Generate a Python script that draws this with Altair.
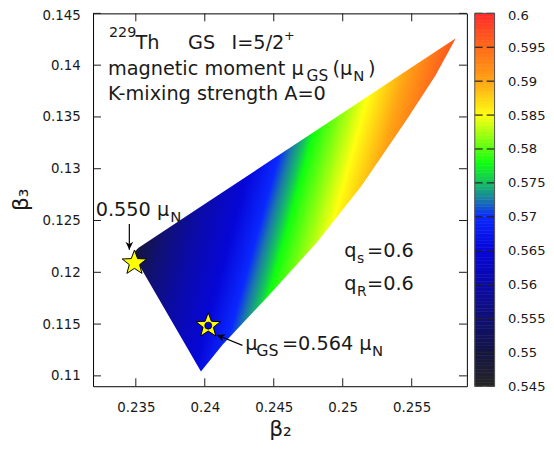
import math
import altair as alt
import numpy as np
import pandas as pd

# ---------------- axes ----------------
X_DOMAIN = [0.2319, 0.259]
Y_DOMAIN = [0.109, 0.145]
X_TICKS = [0.235, 0.24, 0.245, 0.25, 0.255]
Y_TICKS = [0.11, 0.115, 0.12, 0.125, 0.13, 0.135, 0.14, 0.145]
CB_DOMAIN = [0.545, 0.6]
CB_TICKS = [0.545, 0.55, 0.555, 0.56, 0.565, 0.57, 0.575, 0.58, 0.585, 0.59, 0.595, 0.6]

# ---------------- palette (mu_GS -> colour) ----------------
PAL_V = [0.545, 0.550, 0.555, 0.560, 0.565, 0.570, 0.5725, 0.575, 0.578, 0.585, 0.590, 0.595, 0.600]
PAL_C = ["#262626", "#141444", "#101074", "#0b0ba8", "#0606d8", "#0a28ff", "#1a7aa8",
         "#14c060", "#10ff10", "#ffff10", "#ffa414", "#ff6a18", "#ff2a2a"]

# ---------------- allowed region in (beta2, beta3) ----------------
UPPER_B2 = [0.23477, 0.2352, 0.2582]
UPPER_B3 = [0.1218, 0.12237, 0.14261]
LOWER_B2 = [0.23477, 0.23972, 0.24129, 0.24452, 0.24810, 0.25133, 0.25456, 0.25671, 0.2582]
LOWER_B3 = [0.1218, 0.11043, 0.11301, 0.11759, 0.12285, 0.12829, 0.13459, 0.13898, 0.14261]

# colour profile across the region: fraction from left corner towards the tip, mu_GS
PROFILE_F = [0.0, 0.02, 0.10, 0.22, 0.36, 0.46, 0.50, 0.54, 0.57, 0.74, 0.86, 1.0]
PROFILE_MU = [0.549, 0.550, 0.555, 0.560, 0.565, 0.570, 0.5725, 0.575, 0.578, 0.585, 0.590, 0.596]
GRAD_DIR = (0.96, 0.28)

# ---------------- markers / annotations ----------------
STAR_B2 = [0.2349, 0.24025]
STAR_B3 = [0.1209, 0.11485]
STAR_MU = [0.550, 0.564]

ARROW_TAIL_B2 = [0.23453, 0.24273]
ARROW_TAIL_B3 = [0.12466, 0.11294]
ARROW_TIP_B2 = [0.23453, 0.24088]
ARROW_TIP_B3 = [0.12218, 0.11394]

TXT = ["229", "Th", "GS", "I=5/2", "+",
       "magnetic moment μ", "GS", "(μ", "N", ")",
       "K-mixing strength A=0",
       "0.550 μ", "N",
       "μ", "GS", "=0.564 μ", "N",
       "q", "s", "=0.6", "q", "R", "=0.6"]
TXT_B2 = [0.23305, 0.23498, 0.23878, 0.24194, 0.24574,
          0.23298, 0.24738, 0.24925, 0.25076, 0.25183,
          0.23298,
          0.23209, 0.23749,
          0.24294, 0.24373, 0.24559, 0.25212,
          0.25011, 0.25104, 0.25176, 0.25011, 0.25104, 0.25176]
TXT_B3 = [0.14271, 0.14159, 0.14159, 0.14159, 0.14247,
          0.13903, 0.13850, 0.13903, 0.13850, 0.13903,
          0.13660,
          0.12542, 0.12485,
          0.11253, 0.11191, 0.11253, 0.11191,
          0.12151, 0.12094, 0.12151, 0.11826, 0.11769, 0.11826]
TXT_FS = [14.5, 19.5, 19.5, 19.5, 13,
          19.5, 15.5, 19.5, 15, 19.5,
          19.5,
          19.5, 15,
          19.5, 16, 19.5, 15,
          19.5, 14, 19.5, 19.5, 14, 19.5]

FONT = "DejaVu Sans"
INK = "#1a1a1a"
W, H = 378, 377
CB_X0, CB_X1 = W + 8, W + 28

# ---------------- helpers ----------------
sx = W / (X_DOMAIN[1] - X_DOMAIN[0])
sy = H / (Y_DOMAIN[1] - Y_DOMAIN[0])


def to_px(b2, b3):
    return ((b2 - X_DOMAIN[0]) * sx, (Y_DOMAIN[1] - b3) * sy)


def hex2rgb(h):
    h = h.lstrip("#")
    return [int(h[i:i + 2], 16) for i in (0, 2, 4)]


PAL_RGB = np.array([hex2rgb(c) for c in PAL_C], dtype=float)


def mu_color(v):
    rgb = [int(round(float(np.interp(v, PAL_V, PAL_RGB[:, k])))) for k in range(3)]
    return "#%02x%02x%02x" % tuple(rgb)


# five-pointed star symbol (unit radius)
_sp = []
for k in range(10):
    r = 1.0 if k % 2 == 0 else 0.42
    a = math.radians(-90 + 36 * k)
    _sp.append("%.3f,%.3f" % (r * math.cos(a), r * math.sin(a)))
STAR_PATH = "M" + "L".join(_sp) + "Z"
ARROW_PATH = "M0,0L-1,-2.1L0,-1.4L1,-2.1Z"

# gradient geometry (normalised to the area's bounding box)
pts = [to_px(a, b) for a, b in zip(UPPER_B2 + LOWER_B2, UPPER_B3 + LOWER_B3)]
bx0 = min(p[0] for p in pts); bx1 = max(p[0] for p in pts)
by0 = min(p[1] for p in pts); by1 = max(p[1] for p in pts)
bw, bh = bx1 - bx0, by1 - by0
dn = math.hypot(*GRAD_DIR)
d = (GRAD_DIR[0] / dn, GRAD_DIR[1] / dn)
p1 = to_px(UPPER_B2[0], UPPER_B3[0])
tip = to_px(UPPER_B2[-1], UPPER_B3[-1])
L = (tip[0] - p1[0]) * d[0] + (tip[1] - p1[1]) * d[1]
p2 = (p1[0] + L * d[0], p1[1] + L * d[1])
grad = {
    "gradient": "linear",
    "x1": (p1[0] - bx0) / bw, "y1": (p1[1] - by0) / bh,
    "x2": (p2[0] - bx0) / bw, "y2": (p2[1] - by0) / bh,
    "stops": [{"offset": float(f), "color": mu_color(m)} for f, m in zip(PROFILE_F, PROFILE_MU)],
}

xs = sorted(set(UPPER_B2) | set(LOWER_B2))
area_df = pd.DataFrame({
    "b2": xs,
    "up": np.interp(xs, UPPER_B2, UPPER_B3),
    "lo": np.interp(xs, LOWER_B2, LOWER_B3),
})

xscale = alt.Scale(domain=X_DOMAIN, nice=False, zero=False)
yscale = alt.Scale(domain=Y_DOMAIN, nice=False, zero=False)
xaxis = alt.Axis(values=X_TICKS, format=".3~f", ticks=False, domain=False, grid=False,
                 labelFont=FONT, labelFontSize=13.5, labelColor=INK, labelPadding=15,
                 title="β₂", titleFont=FONT, titleFontSize=22, titleFontWeight="normal",
                 titleColor=INK, titleX=189, titleY=50, titleBaseline="alphabetic",
                 titleAlign="center")
yaxis = alt.Axis(values=Y_TICKS, format=".3~f", ticks=False, domain=False, grid=False,
                 labelFont=FONT, labelFontSize=13.5, labelColor=INK, labelPadding=13,
                 labelOffset={"condition": {"test": "datum.value >= 0.1449", "value": 2.5},
                              "value": 0},
                 title="β₃", titleFont=FONT, titleFontSize=22, titleFontWeight="normal",
                 titleColor=INK, titleX=-66, titleY=188, titleAngle=270,
                 titleBaseline="alphabetic", titleAlign="center")


def X(f):
    return alt.X(f, type="quantitative", scale=xscale, axis=xaxis)


def Y(f):
    return alt.Y(f, type="quantitative", scale=yscale, axis=yaxis)


area = alt.Chart(area_df).mark_area(color=grad, strokeWidth=0).encode(
    x=X("b2"), y=Y("lo"), y2="up")

# inward ticks on all four sides
xt = pd.DataFrame({"b2": X_TICKS})
yt = pd.DataFrame({"b3": Y_TICKS})
tick_b = alt.Chart(xt).mark_rule(color=INK, strokeWidth=1).encode(
    x=X("b2"), y=alt.value(H), y2=alt.value(H - 8))
tick_t = alt.Chart(xt).mark_rule(color=INK, strokeWidth=1).encode(
    x=X("b2"), y=alt.value(0), y2=alt.value(8))
tick_l = alt.Chart(yt).mark_rule(color=INK, strokeWidth=1).encode(
    y=Y("b3"), x=alt.value(0), x2=alt.value(8))
tick_r = alt.Chart(yt).mark_rule(color=INK, strokeWidth=1).encode(
    y=Y("b3"), x=alt.value(W), x2=alt.value(W - 8))

star_df = pd.DataFrame({"b2": STAR_B2, "b3": STAR_B3, "mu": STAR_MU})
stars = alt.Chart(star_df).mark_point(shape=STAR_PATH, filled=True, fill="#ffff00",
                                      stroke="black", strokeWidth=1, size=676,
                                      opacity=1).encode(x=X("b2"), y=Y("b3"))
hole_df = star_df.iloc[1:].reset_index(drop=True)
hole = alt.Chart(hole_df).mark_point(shape="circle", filled=True, fill=mu_color(STAR_MU[1]),
                                     stroke="black", strokeWidth=0.8, size=50,
                                     opacity=1).encode(x=X("b2"), y=Y("b3"))

# arrows
angles = []
for tb2, tb3, hb2, hb3 in zip(ARROW_TAIL_B2, ARROW_TAIL_B3, ARROW_TIP_B2, ARROW_TIP_B3):
    ax, ay = to_px(tb2, tb3)
    hx, hy = to_px(hb2, hb3)
    ux, uy = hx - ax, hy - ay
    angles.append(round(math.degrees(math.atan2(-ux, uy)) % 360, 2) + 0.0)
arrow_df = pd.DataFrame({"b2": ARROW_TAIL_B2, "b3": ARROW_TAIL_B3,
                         "tb2": ARROW_TIP_B2, "tb3": ARROW_TIP_B3, "ang": angles})
shafts = alt.Chart(arrow_df).mark_rule(color="black", strokeWidth=1.2).encode(
    x=X("b2"), y=Y("b3"), x2="tb2", y2="tb3")
heads = alt.Chart(arrow_df).mark_point(shape=ARROW_PATH, filled=True,
                                       fill="black", strokeWidth=0, size=60,
                                       opacity=1).encode(
    x=X("tb2"), y=Y("tb3"), angle=alt.Angle("ang:Q", scale=None))

txt_df = pd.DataFrame({"t": TXT, "b2": TXT_B2, "b3": TXT_B3, "fs": TXT_FS})
texts = alt.Chart(txt_df).mark_text(align="left", baseline="alphabetic", font=FONT,
                                    color=INK).encode(
    x=X("b2"), y=Y("b3"), text="t:N", size=alt.Size("fs:Q", scale=None))

main = alt.layer(area, tick_b, tick_t, tick_l, tick_r, stars, hole, shafts, heads, texts)

# ---------------- colour bar ----------------
cb_edges = np.round(np.linspace(CB_DOMAIN[0], CB_DOMAIN[1], 111), 6)
cb_df = pd.DataFrame({"v0": cb_edges[:-1], "v1": cb_edges[1:],
                      "vm": (cb_edges[:-1] + cb_edges[1:]) / 2})
cbscale = alt.Scale(domain=CB_DOMAIN, nice=False, zero=False)
pal_scale = alt.Scale(domain=PAL_V, range=PAL_C, interpolate="rgb")
cbaxis = alt.Axis(orient="right", offset=CB_X1 - W, values=CB_TICKS, format=".3~f",
                  ticks=False, domain=False, grid=False, labelFont=FONT,
                  labelFontSize=13.3, labelColor=INK, labelPadding=13,
                  labelOffset={"condition": {"test": "datum.value >= 0.5999", "value": 2.5},
                               "value": 0},
                  title=None)

cb_rects = alt.Chart(cb_df).mark_rect(strokeWidth=0.6).encode(
    x=alt.value(CB_X0), x2=alt.value(CB_X1),
    y=alt.Y("v0:Q", scale=cbscale, axis=cbaxis), y2="v1:Q",
    color=alt.Color("vm:Q", scale=pal_scale, legend=None),
    stroke=alt.Stroke("vm:Q", scale=pal_scale, legend=None))
cbt_df = pd.DataFrame({"v": CB_TICKS})
cb_dash_l = alt.Chart(cbt_df).mark_rule(color="#222", strokeWidth=1.2).encode(
    y=alt.Y("v:Q", scale=cbscale, axis=cbaxis), x=alt.value(CB_X0), x2=alt.value(CB_X0 + 8))
cb_dash_r = alt.Chart(cbt_df).mark_rule(color="#222", strokeWidth=1.2).encode(
    y=alt.Y("v:Q", scale=cbscale, axis=cbaxis), x=alt.value(CB_X1 - 8), x2=alt.value(CB_X1))
cbf_df = pd.DataFrame({"a": [CB_DOMAIN[0]], "b": [CB_DOMAIN[1]]})
cb_frame = alt.Chart(cbf_df).mark_rect(fillOpacity=0, stroke="#555", strokeWidth=1).encode(
    x=alt.value(CB_X0), x2=alt.value(CB_X1),
    y=alt.Y("a:Q", scale=cbscale, axis=cbaxis), y2="b:Q")
cbar = alt.layer(cb_rects, cb_dash_l, cb_dash_r, cb_frame)

chart = alt.layer(main, cbar).resolve_scale(
    y="independent", color="independent", stroke="independent"
).resolve_axis(y="independent").properties(
    width=W, height=H,
    autosize=alt.AutoSizeParams(type="none"),
    padding={"left": 86, "top": 3, "right": 80, "bottom": 58},
    background="white",
).configure_view(stroke="black", strokeWidth=1)

chart.save("out.html", embed_options={"renderer": "svg", "actions": False})
